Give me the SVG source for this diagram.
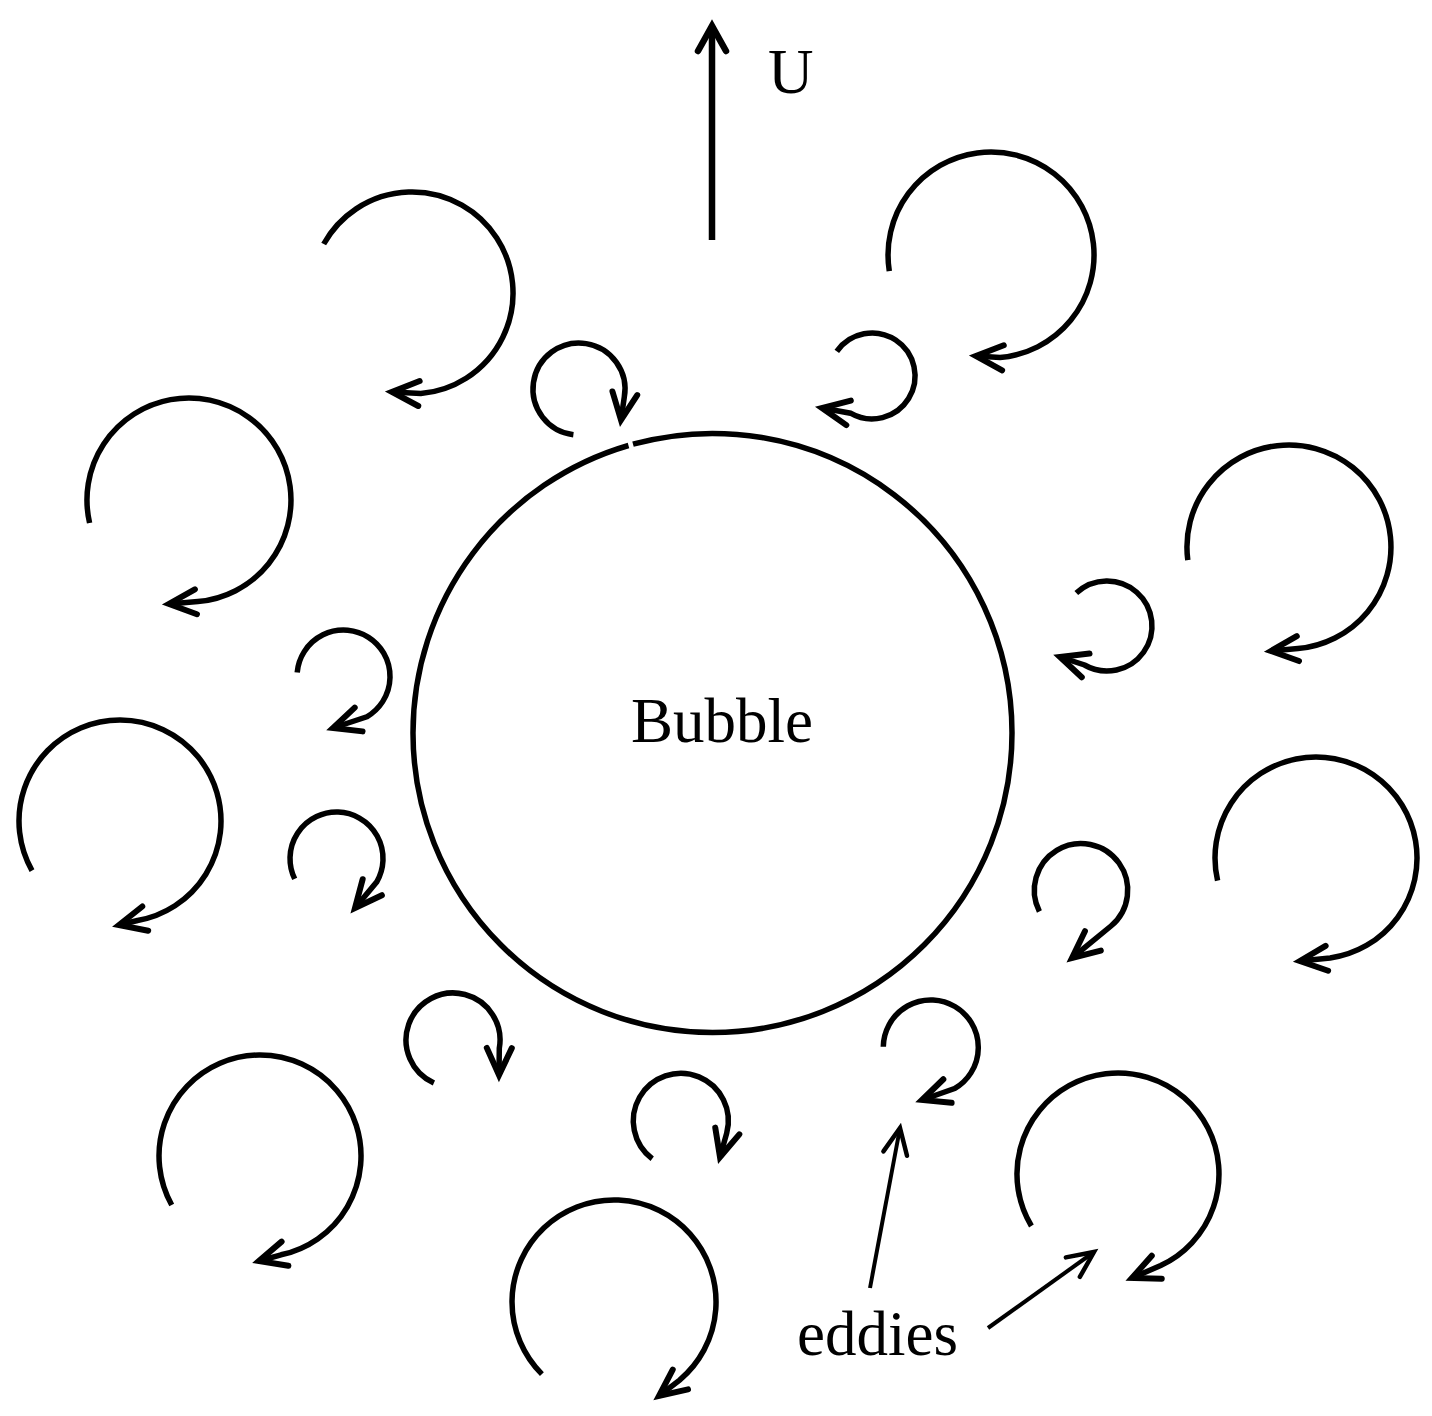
<svg xmlns="http://www.w3.org/2000/svg" width="1432" height="1416" viewBox="0 0 1432 1416">
<style>
.ed{fill:none;stroke:#000;stroke-width:5.5;stroke-linecap:butt;marker-end:url(#ah)}
.lbl{font-family:"Liberation Serif","Times New Roman",serif;fill:#000;font-size:63px}
.cn{fill:none;stroke:#000;stroke-width:4;marker-end:url(#ah2)}
</style>
<defs>
<marker id="ah" viewBox="-32 -16 36 32" markerWidth="36" markerHeight="32" refX="0" refY="0" orient="auto" markerUnits="userSpaceOnUse" overflow="visible">
<path d="M-27,-12.5 L0,0 L-27,12.5" fill="none" stroke="#000" stroke-width="6" stroke-linecap="round" stroke-linejoin="miter"/>
</marker>
<marker id="ah2" viewBox="-32 -16 36 32" markerWidth="36" markerHeight="32" refX="0" refY="0" orient="auto" markerUnits="userSpaceOnUse" overflow="visible">
<path d="M-26,-12 L0,0 L-26,12" fill="none" stroke="#000" stroke-width="4.5" stroke-linecap="round" stroke-linejoin="miter"/>
</marker>
<marker id="ah3" viewBox="-32 -18 36 36" markerWidth="36" markerHeight="36" refX="0" refY="0" orient="auto" markerUnits="userSpaceOnUse" overflow="visible">
<path d="M-25,-14 L0,0 L-25,14" fill="none" stroke="#000" stroke-width="6.5" stroke-linecap="round" stroke-linejoin="miter"/>
</marker>
</defs>
<rect width="1432" height="1416" fill="#fff"/>
<g id="bubble">
<path d="M633,444.2 A299.5,299.5 0 0 1 1012,733 A299.5,299.5 0 0 1 413,733 A299.5,299.5 0 0 1 628.5,445.5" fill="none" stroke="#000" stroke-width="5.5"/>
<text class="lbl" x="631" y="742">Bubble</text>
</g>
<g id="eddy-large-1"><path class="ed" d="M323.7,244 A101,101 0 1 1 420.8,393.6 L392,392"/></g>
<g id="eddy-large-2"><path class="ed" d="M889.3,271.1 A103,103 0 1 1 1000,357.6 L976,356"/></g>
<g id="eddy-large-3"><path class="ed" d="M89.6,523 A102,102 0 1 1 197.9,601.6 L169,604"/></g>
<g id="eddy-large-4"><path class="ed" d="M1187.8,560.1 A102,102 0 1 1 1297.9,648.6 L1271,651"/></g>
<g id="eddy-large-5"><path class="ed" d="M32,870.6 A101,101 0 1 1 137.5,920.5 L119,925"/></g>
<g id="eddy-large-6"><path class="ed" d="M1217.6,880.7 A101,101 0 1 1 1330.1,958 L1300,961"/></g>
<g id="eddy-large-7"><path class="ed" d="M171.7,1205 A101,101 0 1 1 281,1254.8 L259,1261"/></g>
<g id="eddy-large-8"><path class="ed" d="M541.9,1374.1 A102,102 0 1 1 679.6,1380.1 L659,1396"/></g>
<g id="eddy-large-9"><path class="ed" d="M1031.4,1226 A101,101 0 1 1 1160.7,1265.5 L1132,1278"/></g>
<g id="eddy-small-1"><path class="ed" d="M573.4,434.7 A46,46 0 1 1 624.3,397 L621,420"/></g>
<g id="eddy-small-2"><path class="ed" d="M836.8,351.3 A43,43 0 1 1 850.5,413.2 L822,408"/></g>
<g id="eddy-small-3"><path class="ed" d="M297.2,672.4 A46.5,46.5 0 1 1 366.8,716.8 L333,728"/></g>
<g id="eddy-small-4"><path class="ed" d="M294.7,878.9 A46.5,46.5 0 1 1 376.8,881.8 L355,908"/></g>
<g id="eddy-small-5"><path class="ed" d="M1076.3,593.1 A45,45 0 1 1 1084.5,665 L1060,657"/></g>
<g id="eddy-small-6"><path class="ed" d="M1039.4,911.4 A46.7,46.7 0 1 1 1111,926 L1072,958"/></g>
<g id="eddy-small-7"><path class="ed" d="M433.9,1082.9 A47,47 0 1 1 499.3,1048.2 L499,1075"/></g>
<g id="eddy-small-8"><path class="ed" d="M652.2,1158.7 A47.5,47.5 0 1 1 726.7,1133.1 L720,1157"/></g>
<g id="eddy-small-9"><path class="ed" d="M883.3,1046.7 A47.5,47.5 0 1 1 954.5,1088.6 L922,1100"/></g>
<g id="label-U"><text class="lbl" x="768" y="93">U</text></g>
<g id="label-eddies"><text class="lbl" x="797" y="1355">eddies</text></g>
<g id="connectors">
<path d="M712,240 L712,26" fill="none" stroke="#000" stroke-width="6.5" marker-end="url(#ah3)"/>
<path class="cn" d="M870,1288 L900,1128"/>
<path class="cn" d="M988,1328 L1094,1252"/>
</g>
</svg>
